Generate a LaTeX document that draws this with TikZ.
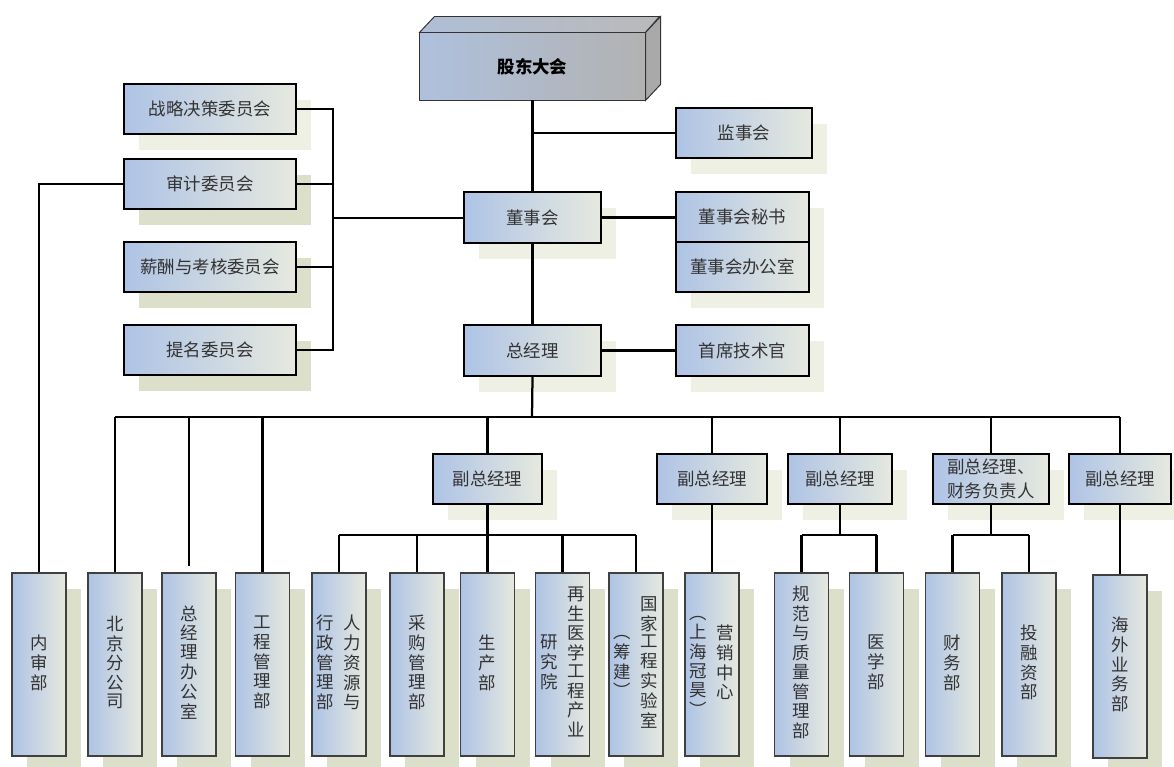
\documentclass[tikz,border=0pt]{standalone}
\usepackage{fontspec}
\setmainfont{Noto Sans CJK SC}
\usetikzlibrary{shadows}
\definecolor{bleu}{HTML}{AEC3E5}
\definecolor{pale}{HTML}{E6E9DF}
\definecolor{ombreclair}{HTML}{EEF0E4}
\definecolor{ombrefonce}{HTML}{DCE0CA}
\definecolor{gris}{HTML}{B2B2B2}
\definecolor{texte}{HTML}{333333}
\newcommand{\colonne}[1]{\begin{tabular}[c]{@{}c@{}}#1\end{tabular}}
\tikzset{
  lien/.style={line width=1.6pt, black},
  boite/.style={draw=black, line width=1.5pt, left color=bleu, right color=pale, text=texte,
    inner sep=0pt, align=center, font=\fontsize{12.4}{17}\selectfont},
  ombre/.style={general shadow={fill=#1, shadow xshift=0.375cm, shadow yshift=-0.4cm}},
  haut/.style={boite, ombre=ombreclair, minimum width=3.325cm, minimum height=1.25cm},
  comite/.style={boite, minimum width=4.3cm, minimum height=1.25cm},
  adjoint/.style={boite, ombre=ombreclair, minimum height=1.25cm, minimum width=#1},
  service/.style={boite, ombre=ombrefonce, draw=black!75, line width=0.9pt,
    minimum width=1.35cm, minimum height=4.575cm, font=\fontsize{12.4}{12.4}\selectfont},
}
\begin{document}
\begin{tikzpicture}[x=0.025cm,y=-0.025cm]
  \useasboundingbox (0,0) rectangle (1174,767);
  % assemblee : boite en relief
  \node[boite, line width=0.7pt, draw=black!80, left color=bleu!85!gris, right color=gris,
    minimum width=5.625cm, minimum height=1.675cm, text=black,
    font=\fontsize{12.4}{17}\selectfont\bfseries] (gudong) at (532.5,66.5) {股东大会};
  \draw[line width=0.7pt, draw=black!80, left color=bleu!70!gris, right color=gris!90]
    (gudong.north west) -- ++(15,-16) -- ++(225,0) -- (gudong.north east) -- cycle;
  \draw[line width=0.7pt, draw=black!80, fill=gris!95!black]
    (gudong.north east) -- ++(15,-16) -- ++(0,68) -- (gudong.south east) -- cycle;

  \node[haut, minimum width=3.4cm] (jianshi) at (744,133) {监事会};
  \node[haut, minimum width=3.425cm, minimum height=1.275cm] (dongshi) at (532.5,217.5) {董事会};
  \node[haut] (mishu) at (742.5,217) {董事会秘书};
  \node[haut] (bangong) at (742.5,267) {董事会办公室};
  \node[haut, minimum width=3.425cm, minimum height=1.275cm] (zjl) at (532.5,350.5) {总经理};
  \node[haut, minimum height=1.275cm] (cto) at (742.5,350.5) {首席技术官};

  % comites
  \node[comite, ombre=ombreclair] (zhanlue) at (210,109) {战略决策委员会};
  \node[comite, ombre=ombrefonce] (shenji) at (210,184) {审计委员会};
  \node[comite, ombre=ombrefonce] (xinchou) at (210,267) {薪酬与考核委员会};
  \node[comite, ombre=ombrefonce] (timing) at (210,350) {提名委员会};

  \node[adjoint=2.725cm] (fu1) at (487.5,479) {副总经理};
  \node[adjoint=2.75cm] (fu2) at (712,479) {副总经理};
  \node[adjoint=2.6cm] (fu3) at (840,479) {副总经理};
  \node[adjoint=2.9cm] (fu4) at (991,479) {副总经理、\\财务负责人};
  \node[adjoint=2.55cm] (fu5) at (1120,479) {副总经理};

  % services
  \node[service] (neishen) at (39,664.5) {\colonne{内\\审\\部}};
  \node[service] (beijing) at (115,664.5) {\colonne{北\\京\\分\\公\\司}};
  \node[service] (zjb) at (189,664.5) {\colonne{总\\经\\理\\办\\公\\室}};
  \node[service] (gongcheng) at (262.5,664.5) {\colonne{工\\程\\管\\理\\部}};
  \node[service] (renli) at (339,664.5) {\colonne{行\\政\\管\\理\\部}\hspace{0.24cm}\colonne{人\\力\\资\\源\\与}};
  \node[service] (caigou) at (417,664.5) {\colonne{采\\购\\管\\理\\部}};
  \node[service] (shengchan) at (487.5,664.5) {\colonne{生\\产\\部}};
  \node[service] (zaisheng) at (562.5,664.5) {\colonne{研\\究\\院}\hspace{0.24cm}\colonne{再\\生\\医\\学\\工\\程\\产\\业}};
  \node[service] (guojia) at (636,664.5) {\colonne{︵\\筹\\建\\︶}\hspace{0.24cm}\colonne{国\\家\\工\\程\\实\\验\\室}};
  \node[service] (yingxiao) at (712,664.5) {\colonne{︵\\上\\海\\冠\\昊\\︶}\hspace{0.24cm}\colonne{营\\销\\中\\心}};
  \node[service] (guifan) at (801.5,664.5) {\colonne{规\\范\\与\\质\\量\\管\\理\\部}};
  \node[service] (yixue) at (876.5,664.5) {\colonne{医\\学\\部}};
  \node[service] (caiwu) at (952.5,664.5) {\colonne{财\\务\\部}};
  \node[service] (tourong) at (1029,664.5) {\colonne{投\\融\\资\\部}};
  \node[service] (haiwai) at (1120,666.5) {\colonne{海\\外\\业\\务\\部}};

  \draw[lien] (gudong.south) -- (dongshi.north);
  \draw[lien] (gudong.south |- jianshi.west) -- (jianshi.west);
  \draw[lien] (dongshi.east) -- (dongshi.east -| mishu.west);
  \draw[lien] (dongshi.south) -- (zjl.north);
  \draw[lien] (zjl.east) -- (cto.west);

  \coordinate (crochet) at (333,218);
  \draw[lien] (zhanlue.east) -| (crochet) |- (timing.east);
  \draw[lien] (shenji.east) -- (shenji.east -| crochet);
  \draw[lien] (xinchou.east) -- (xinchou.east -| crochet);
  \draw[lien] (crochet) -- (crochet -| dongshi.west);
  \draw[lien] (shenji.west) -| (neishen.north);

  \coordinate (bus) at (532,417);
  \draw[lien] (zjl.south) -- (bus);
  \draw[lien] (bus -| beijing.north) -- (bus -| fu5.north);
  \foreach \n in {beijing,gongcheng,fu1,fu2,fu3,fu4,fu5}
    \draw[lien] (bus -| \n.north) -- (\n.north);
  \draw[lien, shorten >=0.15cm] (bus -| zjb.north) -- (zjb.north);

  \coordinate (sous) at (0,535);
  \draw[lien] (fu1.south) -- (sous -| fu1.south);
  \draw[lien] (sous -| renli.north) -- (sous -| guojia.north);
  \foreach \n in {renli,caigou,shengchan,zaisheng,guojia}
    \draw[lien] (sous -| \n.north) -- (\n.north);
  \draw[lien] (fu2.south) -- (yingxiao.north);
  \draw[lien] (fu3.south) -- (sous -| fu3.south);
  \draw[lien] (sous -| guifan.north) -- (sous -| yixue.north);
  \foreach \n in {guifan,yixue}
    \draw[lien] (sous -| \n.north) -- (\n.north);
  \draw[lien] (fu4.south) -- (sous -| fu4.south);
  \draw[lien] (sous -| caiwu.north) -- (sous -| tourong.north);
  \foreach \n in {caiwu,tourong}
    \draw[lien] (sous -| \n.north) -- (\n.north);
  \draw[lien] (fu5.south) -- (haiwai.north);
\end{tikzpicture}
\end{document}
